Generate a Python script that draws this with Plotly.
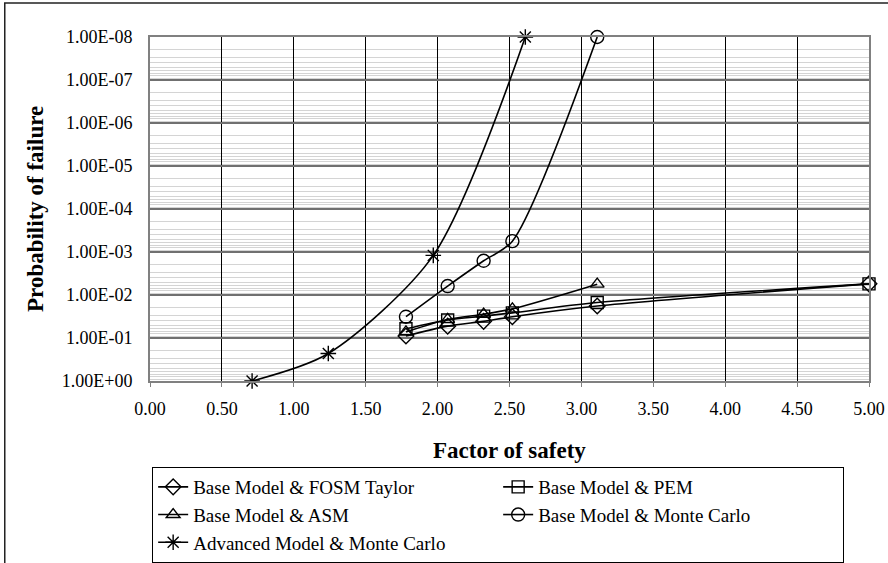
import plotly.graph_objects as go

# Factor of safety values for the base-model analyses
fs_base = [1.78, 2.07, 2.32, 2.52, 3.11, 5.00]
fs_asm = [1.78, 2.07, 2.32, 2.52, 3.11]
fs_mc = [1.78, 2.07, 2.32, 2.52, 3.11]
fs_adv = [0.71, 1.24, 1.97, 2.61]

# Probability of failure for each method
pf_fosm = [0.090, 0.053, 0.041, 0.032, 0.018, 0.0055]
pf_pem = [0.061, 0.038, 0.031, 0.026, 0.015, 0.0055]
pf_asm = [0.072, 0.037, 0.028, 0.021, 0.0056]
pf_mc = [0.032, 0.0062, 0.0016, 0.00056, 1e-8]
pf_adv = [1.0, 0.23, 0.0012, 1e-8]

names = [
    "Base Model & FOSM Taylor",
    "Base Model & PEM",
    "Base Model & ASM",
    "Base Model & Monte Carlo",
    "Advanced Model & Monte Carlo",
]

y_tick_vals = [1, 1e-1, 1e-2, 1e-3, 1e-4, 1e-5, 1e-6, 1e-7, 1e-8]
y_tick_text = ["1.00E+00", "1.00E-01", "1.00E-02", "1.00E-03", "1.00E-04",
               "1.00E-05", "1.00E-06", "1.00E-07", "1.00E-08"]
minor_vals = [k * 10.0 ** e for e in range(-8, 0) for k in range(2, 10)]

FONT = "Liberation Serif, Times New Roman, serif"

series = [
    (fs_base, pf_fosm, names[0], "diamond-open", 12),
    (fs_base, pf_pem, names[1], "square-open", 12),
    (fs_asm, pf_asm, names[2], "triangle-up-open", 12),
    (fs_mc, pf_mc, names[3], "circle-open", 13),
    (fs_adv, pf_adv, names[4], "asterisk-open", 13),
]

fig = go.Figure()
for xs, ys, name, sym, size in series:
    fig.add_trace(go.Scatter(
        x=xs, y=ys, name=name, mode="lines+markers",
        line=dict(color="black", width=1.6, shape="spline", smoothing=0.8),
        marker=dict(symbol=sym, size=size, color="black",
                    line=dict(color="black", width=1.4)),
        cliponaxis=False,
    ))

fig.update_layout(
    width=888, height=563,
    margin=dict(l=150, r=19, t=37, b=182, autoexpand=False),
    paper_bgcolor="white", plot_bgcolor="white",
    font=dict(family=FONT, size=18, color="black"),
    showlegend=True,
    legend=dict(
        orientation="h", x=0.003, xanchor="left", y=-0.25, yanchor="top",
        entrywidth=300, entrywidthmode="pixels",
        bordercolor="black", borderwidth=1, bgcolor="white",
        font=dict(family=FONT, size=19), itemwidth=30,
        tracegroupgap=0,
    ),
    xaxis=dict(
        range=[0, 5], tick0=0, dtick=0.5, tickformat=".2f",
        showgrid=True, gridcolor="black", gridwidth=1,
        zeroline=False, showline=True, linecolor="#808080", linewidth=2,
        mirror=True, ticks="outside", ticklen=4, tickcolor="#808080",
        ticklabelstandoff=6,
        tickfont=dict(family=FONT, size=18),
    ),
    yaxis=dict(
        type="log", range=[0, -8],
        tickvals=y_tick_vals, ticktext=y_tick_text,
        showgrid=True, gridcolor="#707070", gridwidth=1.6,
        zeroline=False, showline=True, linecolor="#808080", linewidth=2,
        mirror=True, ticks="", ticklabelstandoff=12,
        minor=dict(tickvals=minor_vals, showgrid=True,
                   gridcolor="#d4d4d4", gridwidth=1, ticks=""),
        tickfont=dict(family=FONT, size=18),
    ),
    annotations=[
        dict(text="<b>Factor of safety</b>", xref="paper", yref="paper",
             x=0.5, y=-0.203, xanchor="center", yanchor="middle",
             showarrow=False, font=dict(family=FONT, size=23)),
        dict(text="<b>Probability of failure</b>", xref="paper", yref="paper",
             x=-0.16, y=0.5, xanchor="center", yanchor="middle",
             textangle=-90, showarrow=False, font=dict(family=FONT, size=23)),
    ],
)

# Outer chart frame
fig.add_shape(type="rect", xref="paper", yref="paper",
              x0=-0.202, x1=1.06, y0=-0.8, y1=1.099,
              line=dict(color="#222222", width=1.5), layer="below")

fig.write_html("out.html")
